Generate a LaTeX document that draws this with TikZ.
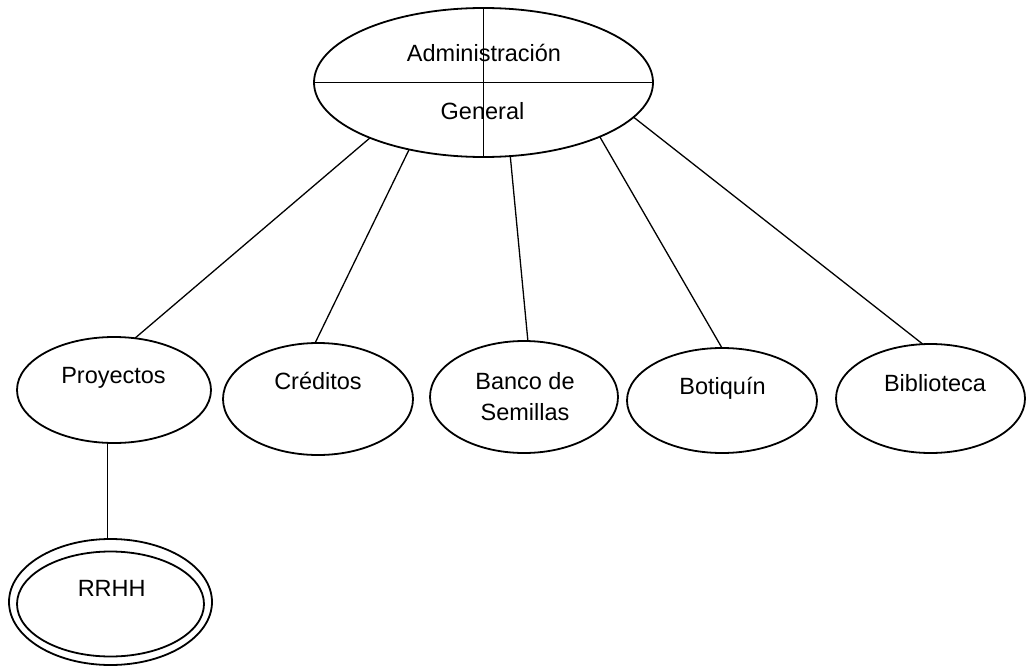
\documentclass[tikz,border=0pt]{standalone}
\usepackage{fontspec}
\setmainfont{Liberation Sans}
\usetikzlibrary{shapes.geometric}
\begin{document}
\begin{tikzpicture}[x=1pt,y=-1pt,
  bubble/.style={draw, ellipse, line width=1.8pt, inner sep=0pt, outer sep=0pt},
  link/.style={line width=1.3pt},
  caption/.style={anchor=base, inner sep=0pt, font=\fontsize{23.5}{30.7}\selectfont}]
\useasboundingbox (0,0) rectangle (1027,666);

% root entity, split into quarters
\node[bubble, minimum width=339pt, minimum height=149pt] (admin) at (483.5,82.5) {};
\draw[link] (admin.west) -- (admin.east);
\draw[link] (admin.north) -- (admin.south);
\node[caption] (admintop) at (484,61.7) {Administración};
\node[caption] (adminbot) at (482.5,120) {General};

% second level
\node[bubble, minimum width=194pt, minimum height=106pt] (proy) at (114,390) {};
\node[caption] (proytxt) at (113.5,383) {Proyectos};

\node[bubble, minimum width=190pt, minimum height=112pt] (cred) at (318,399) {};
\node[caption] (credtxt) at (318,389.3) {Créditos};

\node[bubble, minimum width=188pt, minimum height=112pt] (banco) at (524,397) {};
\node[caption] (bancotxta) at (525,389.3) {Banco de};
\node[caption] (bancotxtb) at (525,420) {Semillas};

\node[bubble, minimum width=190pt, minimum height=105pt] (boti) at (722,400.5) {};
\node[caption] (botitxt) at (722.5,394) {Botiquín};

\node[bubble, minimum width=189pt, minimum height=109pt] (biblio) at (930.5,398.5) {};
\node[caption] (bibliotxt) at (935,391.7) {Biblioteca};

% weak entity (double outline)
\node[bubble, minimum width=203pt, minimum height=126pt] (rrhh) at (110.5,602) {};
\node[bubble, minimum width=187pt, minimum height=105pt] (rrhhin) at (110.5,604) {};
\node[caption] (rrhhtxt) at (111.7,596.7) {RRHH};

% connectors
\draw[link] (admin.206) -- (proy.68);
\draw[link] (admin.222) -- (cred.93);
\draw[link] (admin.290.5) -- (banco.86);
\draw[link] (admin.335.6) -- (boti.90);
\draw[link] (admin.347) -- (biblio.98);
\draw[link] (proy.263) -- (proy.263 |- rrhh.north);
\end{tikzpicture}
\end{document}
